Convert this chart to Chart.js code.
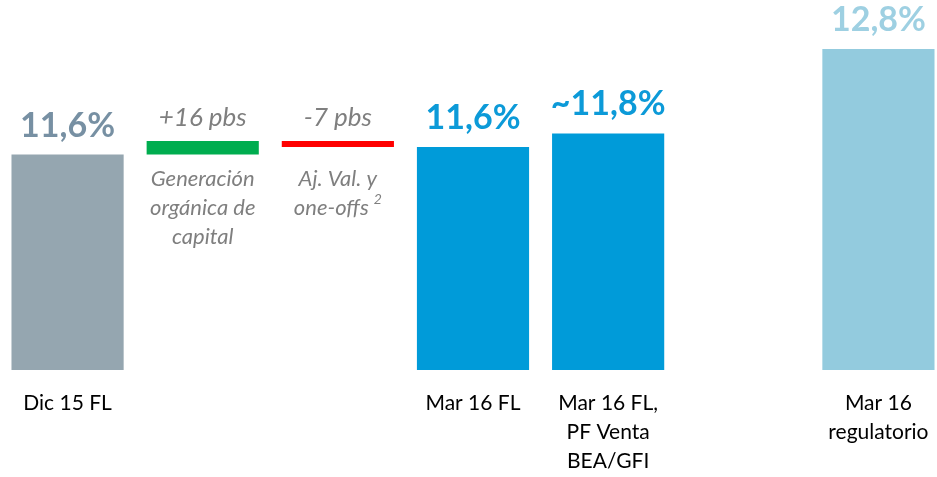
<!DOCTYPE html>
<html>
<head>
<meta charset="utf-8">
<script src="https://cdn.jsdelivr.net/npm/chart.js@4"></script>
<style>
    html, body { margin: 0; padding: 0; background: #fff; overflow: hidden; }
    #wrap { width: 946px; height: 477px; }
</style>
</head>
<body>
<div id="wrap"><canvas id="ratioChart"></canvas></div>
<script>
// Categorías del eje X (líneas de cada etiqueta)
const categorias = [
    ['Dic 15 FL'],
    [''],
    [''],
    ['Mar 16 FL'],
    ['Mar 16 FL,', 'PF Venta', 'BEA/GFI'],
    [''],
    ['Mar 16', 'regulatorio']
];

// Ratios CET1 (%) y movimientos en pbs
const ratios = [11.55, null, null, 11.64, 11.8, null, 12.8];
const prefijos = ['', '', '', '', '~', '', ''];
const pasosPbs = [null, 16, -7, null, null, null, null];
const notasPasos = [
    null,
    ['Generación', 'orgánica de', 'capital'],
    ['Aj. Val. y', 'one-offs'],
    null, null, null, null
];
const superindices = [null, null, '2', null, null, null, null];

const coloresBarra = ['#95a6b0', '#00ad4f', '#ff0000', '#009bd9', '#009bd9', 'rgba(0,0,0,0)', '#93cbde'];
const coloresTexto = ['#7790a3', '#7f7f7f', '#7f7f7f', '#0c9ad8', '#0c9ad8', '#000', '#9ed0e2'];

// Barras flotantes del puente: cada paso parte del nivel acumulado
let nivel = ratios[0];
const datos = ratios.map((v, i) => {
    if (pasosPbs[i] !== null) {
        const fin = nivel + pasosPbs[i] / 100;
        const tramo = [Math.min(nivel, fin), Math.max(nivel, fin)];
        nivel = fin;
        return tramo;
    }
    return v;
});

const fuente = 'Lato, "Open Sans", sans-serif';

// Etiquetas de valor y notas de los pasos
const etiquetas = {
    id: 'etiquetas',
    afterDatasetsDraw(chart) {
        const ctx = chart.ctx;
        const meta = chart.getDatasetMeta(0);
        let fondoPasos = 0;
        meta.data.forEach((el, i) => {
            if (pasosPbs[i] !== null) fondoPasos = Math.max(fondoPasos, el.y, el.base);
        });
        ctx.save();
        ctx.textAlign = 'center';
        meta.data.forEach((el, i) => {
            const arriba = Math.min(el.y, el.base);
            if (ratios[i] !== null) {
                ctx.font = 'bold 34px ' + fuente;
                ctx.fillStyle = coloresTexto[i];
                ctx.textBaseline = 'alphabetic';
                const txt = prefijos[i] + ratios[i].toFixed(1).replace('.', ',') + '%';
                ctx.fillText(txt, el.x, arriba - 18);
            } else if (pasosPbs[i] !== null) {
                ctx.font = 'italic 26px ' + fuente;
                ctx.fillStyle = coloresTexto[i];
                ctx.textBaseline = 'alphabetic';
                const p = pasosPbs[i];
                ctx.fillText((p > 0 ? '+' : '') + p + ' pbs', el.x, arriba - 15);

                ctx.font = 'italic 22px ' + fuente;
                ctx.textBaseline = 'middle';
                const lineas = notasPasos[i];
                lineas.forEach((l, k) => {
                    const y = fondoPasos + 24 + k * 29;
                    if (k === lineas.length - 1 && superindices[i]) {
                        const w = ctx.measureText(l).width;
                        ctx.font = 'italic 14px ' + fuente;
                        const ws = ctx.measureText(superindices[i]).width + 5;
                        ctx.font = 'italic 22px ' + fuente;
                        const x0 = el.x - (w + ws) / 2;
                        ctx.textAlign = 'left';
                        ctx.fillText(l, x0, y);
                        ctx.font = 'italic 14px ' + fuente;
                        ctx.fillText(superindices[i], x0 + w + 5, y - 8);
                        ctx.font = 'italic 22px ' + fuente;
                        ctx.textAlign = 'center';
                    } else {
                        ctx.fillText(l, el.x, y);
                    }
                });
            }
        });
        ctx.restore();
    }
};

const ctx = document.getElementById('ratioChart').getContext('2d');
const ratioChart = new Chart(ctx, {
    type: 'bar',
    data: {
        labels: categorias,
        datasets: [{
            data: datos,
            backgroundColor: coloresBarra,
            borderWidth: 0,
            categoryPercentage: 1,
            barPercentage: 0.83
        }]
    },
    options: {
        responsive: true,
        maintainAspectRatio: false,
        animation: false,
        layout: { padding: 0 },
        plugins: {
            legend: { display: false },
            tooltip: { enabled: false }
        },
        scales: {
            x: {
                grid: { display: false },
                border: { display: false },
                afterFit(scale) { scale.height = 107; },
                ticks: {
                    color: '#000',
                    padding: 11,
                    maxRotation: 0,
                    autoSkip: false,
                    font: { family: fuente, size: 21, lineHeight: 29 / 21 }
                }
            },
            y: {
                display: false,
                min: 9,
                max: 13.38
            }
        }
    },
    plugins: [etiquetas]
});
</script>
</body>
</html>
